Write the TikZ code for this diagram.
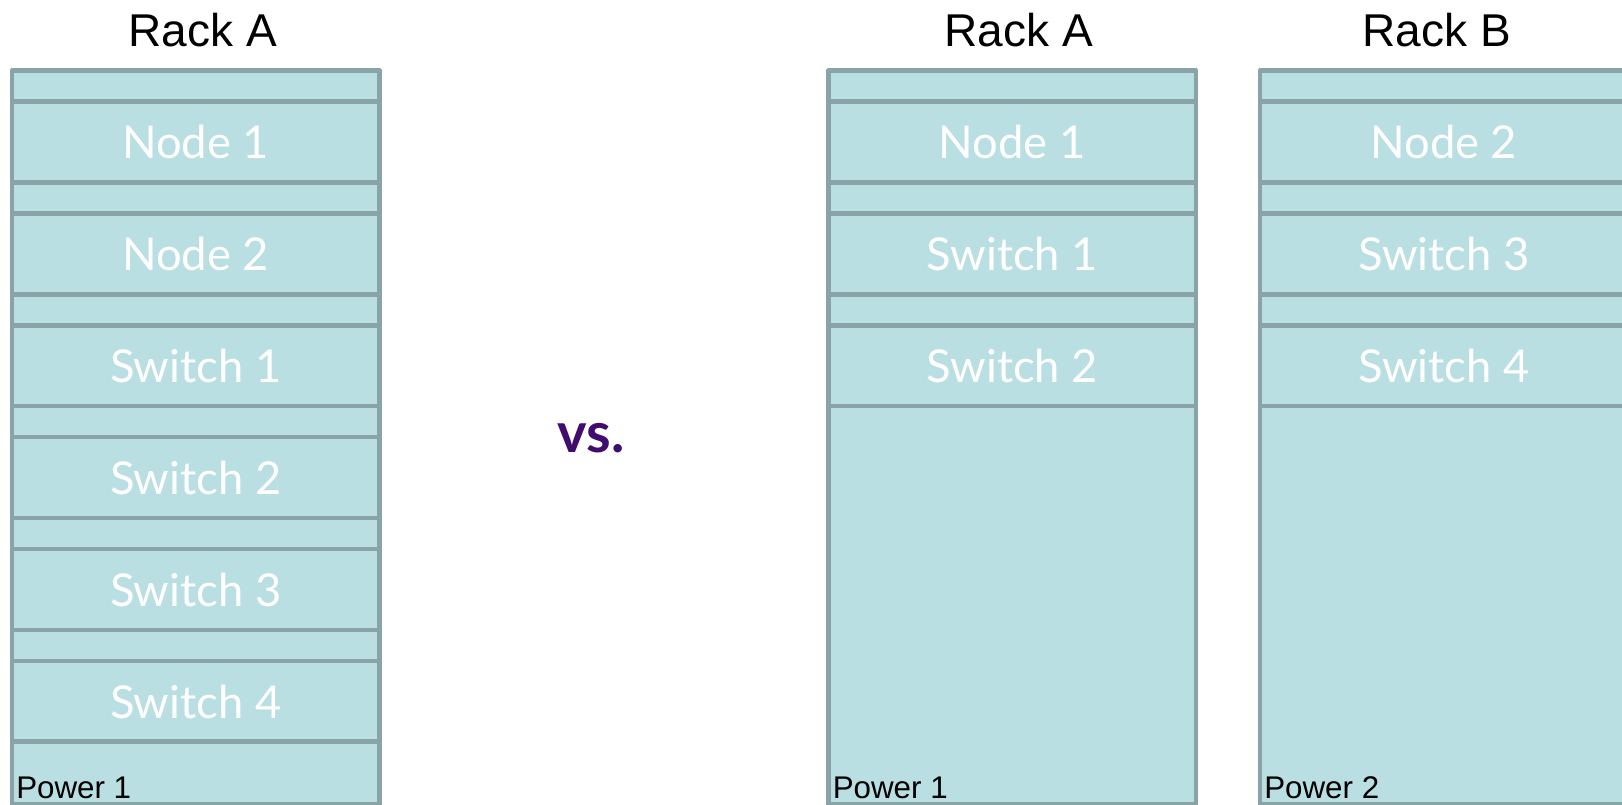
\documentclass[tikz,border=0pt]{standalone}
\usepackage{fontspec}
\setmainfont{Liberation Sans}
\newfontfamily\slotfont{Lato}
\usetikzlibrary{calc}
\usetikzlibrary{positioning}
\definecolor{rackfill}{RGB}{186,223,226}
\definecolor{rackedge}{RGB}{136,164,167}
\definecolor{vspurple}{RGB}{64,12,110}
\tikzset{
  rackline/.style={draw=rackedge,line width=3.5pt},
  racktitle/.style={anchor=base,font=\fontsize{34.5}{40}\selectfont},
  slotlabel/.style={anchor=base,text=white,font=\slotfont\fontsize{34}{40}\selectfont},
  powerlabel/.style={anchor=base west,inner sep=0pt,font=\fontsize{23.5}{27}\selectfont},
}
\newcommand*\mydrawrack[7][]{%
% #2=name;#3=left x;#4=title;#5=title shift;#6=slot labels;#7=power label
    \coordinate (#2-tl) at (#3,70.4);
    \fill[rackfill,#1] (#2-tl) rectangle ++(367.5,734);
    \node[racktitle] (#2-title) at ($(#2-tl)+(183.75+#5,-23.7)$) {#4};
    \foreach \lbl [count=\k from 0] in {#6}{%
        \draw[rackline] ($(#2-tl)+(0,111.9*\k+31)$) -- ++(367.5,0);
        \draw[rackline] ($(#2-tl)+(0,111.9*\k+111.9)$) -- ++(367.5,0);
        \node[slotlabel] (#2-s\k) at ($(#2-tl)+(183.75,111.9*\k+88.6)$) {\lbl};
    }
    \draw[rackline,line join=round] (#2-tl) rectangle ++(367.5,734);
    \node[powerlabel] (#2-pw) at ($(#2-tl)+(4,727.6)$) {#7};
}

\begin{document}
\begin{tikzpicture}[x=0.75pt,y=-0.75pt]
\useasboundingbox (0,0) rectangle (1622,805);
\clip (0,0) rectangle (1622,805);

% one rack
\mydrawrack{single}{12}{Rack A}{7}{Node 1,Node 2,Switch 1,Switch 2,Switch 3,Switch 4}{Power 1}

\node[anchor=base,text=vspurple,font=\slotfont\bfseries\fontsize{42}{48}\selectfont] (vs) at (591,453) {vs.};

% two racks
\mydrawrack{rackA}{828.5}{Rack A}{6.5}{Node 1,Switch 1,Switch 2}{Power 1}
\mydrawrack{rackB}{1260}{Rack B}{-7}{Node 2,Switch 3,Switch 4}{Power 2}
\end{tikzpicture}
\end{document}
